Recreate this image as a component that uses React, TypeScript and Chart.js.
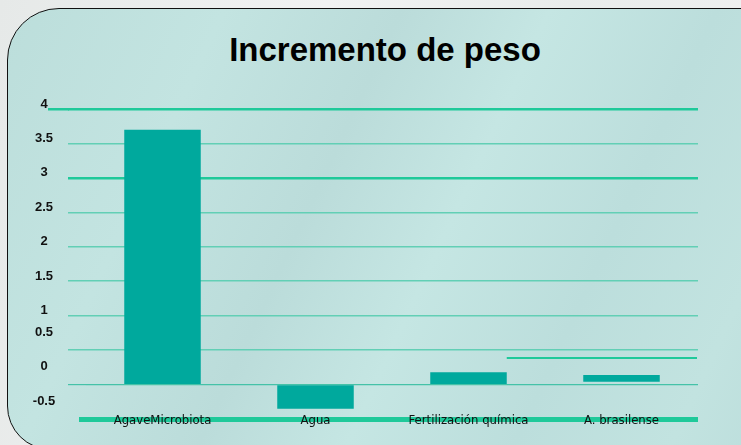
import React, { useEffect, useRef } from "react";
import { Chart, registerables } from "chart.js";

Chart.register(...registerables);

const TITLE = "Incremento de peso";
const CATEGORIES = ["AgaveMicrobiota", "Agua", "Fertilización química", "A. brasilense"];
const VALUES: (number | [number, number])[] = [3.7, -0.35, 0.18, [0.04, 0.14]];
const Y_MIN = -0.5;
const Y_MAX = 4;
const Y_STEP = 0.5;
const STRAY_LINE_VALUE = 0.38;

const BAR_COLOR = "#00a99d";
const THICK_GRID = "#1fc99a";
const THIN_GRID = "#62cfb5";

function alignPx(p: number, w: number) {
  const h = w / 2;
  return Math.round(p - h) + h;
}

const labelPlugin = {
  id: "refDecor",
  beforeDatasetsDraw(chart: any) {
    const { ctx, chartArea, scales } = chart;
    const y = scales.y;
    const yTop = alignPx(y.getPixelForValue(Y_MAX), 2.5);
    ctx.save();
    ctx.strokeStyle = THICK_GRID;
    ctx.lineWidth = 2.5;
    ctx.beginPath();
    ctx.moveTo(chartArea.left - 38, yTop);
    ctx.lineTo(chartArea.left - 17, yTop);
    ctx.stroke();
    const yBot = alignPx(y.getPixelForValue(Y_MIN), 5);
    ctx.lineWidth = 5;
    ctx.beginPath();
    ctx.moveTo(chartArea.left - 7, yBot);
    ctx.lineTo(chartArea.left + 1, yBot);
    ctx.stroke();
    const meta = chart.getDatasetMeta(0);
    const el = meta.data[2];
    if (el) {
      const ys = alignPx(y.getPixelForValue(STRAY_LINE_VALUE), 2);
      ctx.strokeStyle = THICK_GRID;
      ctx.lineWidth = 2;
      ctx.beginPath();
      ctx.moveTo(el.x + el.width / 2, ys);
      ctx.lineTo(chartArea.right - 1, ys);
      ctx.stroke();
    }
    ctx.restore();
  },
  afterDraw(chart: any) {
    const { ctx, scales, chartArea } = chart;
    const y = scales.y;
    const x = scales.x;
    ctx.save();
    ctx.font = "bold 13px 'Liberation Sans', Arial, sans-serif";
    ctx.fillStyle = "#111";
    ctx.textAlign = "center";
    ctx.textBaseline = "middle";
    y.ticks.forEach((t: any) => {
      const v = t.value;
      const py = y.getPixelForValue(v) - (v >= 1 ? 5 : 18);
      ctx.fillText(String(v), 44, py);
    });
    ctx.font = "13px 'DejaVu Sans Condensed', 'DejaVu Sans', sans-serif";
    ctx.fillStyle = "#111";
    CATEGORIES.forEach((label, i) => {
      ctx.fillText(label, x.getPixelForValue(i), chartArea.bottom + 1.5);
    });
    ctx.restore();
  },
};

function gridColor(v: number) {
  if (v === Y_MIN) return THICK_GRID;
  if (v === Y_MAX || v === 3) return THICK_GRID;
  if (v === 0) return "#45c2a8";
  return THIN_GRID;
}
function gridWidth(v: number) {
  if (v === Y_MIN) return 5;
  if (v === Y_MAX || v === 3) return 2.5;
  if (v === 0) return 1.2;
  return 1.5;
}

export default function App() {
  const ref = useRef<HTMLCanvasElement>(null);
  useEffect(() => {
    if (!ref.current) return;
    const chart = new Chart(ref.current, {
      type: "bar",
      data: {
        labels: CATEGORIES,
        datasets: [
          {
            data: VALUES as any,
            backgroundColor: BAR_COLOR,
            borderWidth: 0,
            barPercentage: 0.5,
            categoryPercentage: 1,
          },
        ],
      },
      options: {
        animation: false,
        responsive: false,
        maintainAspectRatio: false,
        layout: { padding: { left: 0, top: 109, right: 43, bottom: 0 } },
        plugins: { legend: { display: false }, tooltip: { enabled: false }, title: { display: false } },
        scales: {
          x: {
            grid: { display: false, drawTicks: false },
            border: { display: false },
            ticks: { display: false },
            afterFit(scale: any) {
              scale.height = 26;
            },
          },
          y: {
            min: Y_MIN,
            max: Y_MAX,
            ticks: { stepSize: Y_STEP, display: false },
            border: { display: false },
            grid: {
              drawTicks: true,
              tickLength: 18,
              color: (c: any) => gridColor(c.tick?.value),
              lineWidth: (c: any) => gridWidth(c.tick?.value),
              tickColor: (c: any) => (c.tick?.value === Y_MIN ? "rgba(0,0,0,0)" : gridColor(c.tick?.value)),
              tickWidth: (c: any) => gridWidth(c.tick?.value),
            },
            afterFit(scale: any) {
              scale.width = 86;
            },
          },
        },
      },
      plugins: [labelPlugin],
    } as any);
    return () => chart.destroy();
  }, []);

  return (
    <div
      style={{
        position: "absolute",
        left: 0,
        top: 0,
        width: 741,
        height: 445,
        overflow: "hidden",
        background: "linear-gradient(100deg, #e6e9e8 0%, #f1f2f2 40%, #e9eceb 70%, #f0f1f1 100%)",
      }}
    >
      <div
        style={{
          position: "absolute",
          left: 7,
          top: 8,
          width: 780,
          height: 440,
          border: "1.5px solid #111",
          borderRadius: "52px 0 0 44px",
          background:
            "linear-gradient(115deg, #bcdedb 0%, #c3e4e1 22%, #bbdcda 40%, #c5e6e3 55%, #bcdedc 72%, #c2e3e0 88%, #bbdddb 100%)",
        }}
      />
      <div
        style={{
          position: "absolute",
          left: 0,
          top: 33,
          width: 770,
          textAlign: "center",
          font: "bold 33px 'Liberation Sans', Arial, sans-serif",
          lineHeight: "33px",
          color: "#000",
        }}
      >
        {TITLE}
      </div>
      <canvas ref={ref} width={741} height={445} style={{ position: "absolute", left: 0, top: 0 }} />
    </div>
  );
}
